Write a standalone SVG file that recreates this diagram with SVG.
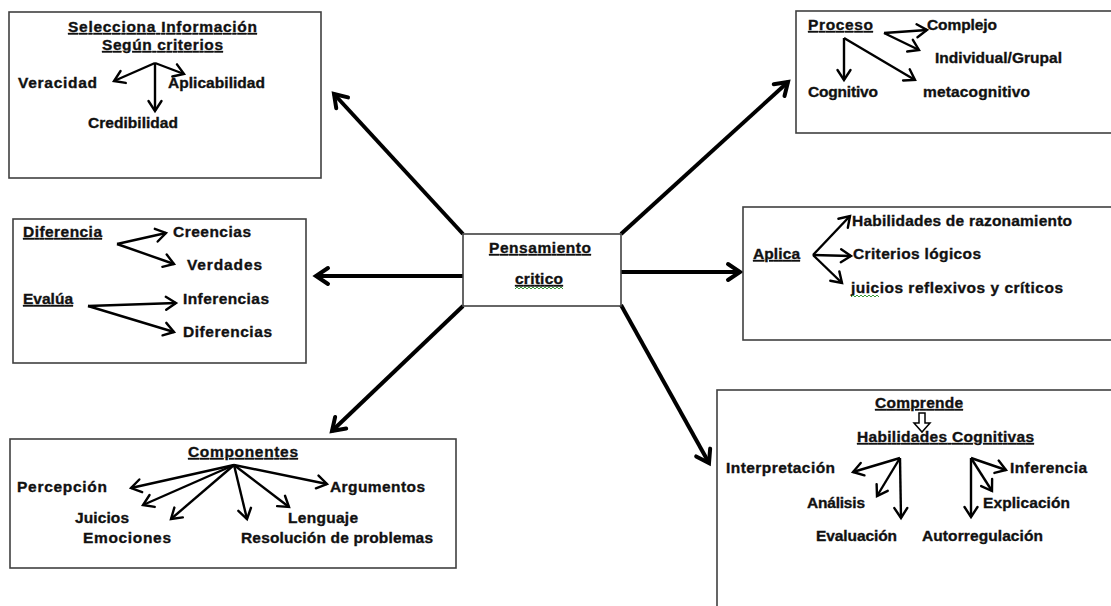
<svg xmlns="http://www.w3.org/2000/svg" width="1111" height="606" viewBox="0 0 1111 606">
<style>
.box{fill:#fff;stroke:#404040;stroke-width:1.6}
text{font-family:"Liberation Sans",Arial,sans-serif;font-weight:bold;font-size:15.5px;fill:#111;stroke:#111;stroke-width:0.35}
.u{text-decoration:underline}
.main{stroke:#000;stroke-width:4;fill:none;marker-end:url(#mh)}
.sm{stroke:#000;stroke-width:2.4;fill:none;marker-end:url(#sh)}
.wavy{stroke:#3a9a3a;stroke-width:1;fill:none}
</style>
<defs>
<marker id="mh" markerUnits="userSpaceOnUse" viewBox="-16 -12 20 24" refX="0" refY="0" markerWidth="20" markerHeight="24" orient="auto" overflow="visible">
<path d="M-12,-8 L0,0 L-12,8" fill="none" stroke="#000" stroke-width="4" stroke-linecap="round" stroke-linejoin="miter"/>
</marker>
<marker id="sh" markerUnits="userSpaceOnUse" viewBox="-12 -9 14 18" refX="0" refY="0" markerWidth="14" markerHeight="18" orient="auto" overflow="visible">
<path d="M-10,-6.5 L0,0 L-10,6.5" fill="none" stroke="#000" stroke-width="2.4" stroke-linecap="round"/>
</marker>
</defs>
<rect width="1111" height="606" fill="#fff"/>

<g id="connectors">
<line class="main" x1="463" y1="234" x2="334" y2="94"/>
<line class="main" x1="621" y1="234" x2="788" y2="82"/>
<line class="main" x1="463" y1="276" x2="316" y2="276"/>
<line class="main" x1="621" y1="272" x2="740" y2="272"/>
<line class="main" x1="463" y1="306" x2="332" y2="431"/>
<line class="main" x1="621" y1="305" x2="709" y2="463"/>
</g>

<g id="node-center">
<rect class="box" x="463" y="234" width="158" height="72"/>
<text class="u" x="489" y="253" textLength="102" lengthAdjust="spacing">Pensamiento</text>
<text class="u" x="515" y="284" textLength="48" lengthAdjust="spacing">critico</text>
<path class="wavy" d="M515,289 l2,-2 l2,2 l2,-2 l2,2 l2,-2 l2,2 l2,-2 l2,2 l2,-2 l2,2 l2,-2 l2,2 l2,-2 l2,2 l2,-2 l2,2 l2,-2 l2,2 l2,-2 l2,2 l2,-2 l2,2 l2,-2 l2,2"/>
</g>

<g id="node-selecciona">
<rect class="box" x="9" y="12" width="312" height="166"/>
<text class="u" x="68" y="32" textLength="189" lengthAdjust="spacing">Selecciona Información</text>
<text class="u" x="102" y="50" textLength="121" lengthAdjust="spacing">Según criterios</text>
<text x="18" y="88" textLength="79" lengthAdjust="spacing">Veracidad</text>
<text x="168" y="88" textLength="97" lengthAdjust="spacing">Aplicabilidad</text>
<text x="88" y="128" textLength="90" lengthAdjust="spacing">Credibilidad</text>
<line class="sm" x1="155" y1="63" x2="114" y2="81"/>
<line class="sm" x1="155" y1="63" x2="184" y2="74"/>
<line class="sm" x1="155" y1="63" x2="155" y2="111"/>
</g>

<g id="node-proceso">
<rect class="box" x="796" y="11" width="320" height="122"/>
<text class="u" x="808" y="30" textLength="65" lengthAdjust="spacing">Proceso</text>
<text x="927" y="30" textLength="70" lengthAdjust="spacing">Complejo</text>
<text x="935" y="63" textLength="127" lengthAdjust="spacing">Individual/Grupal</text>
<text x="808" y="97" textLength="70" lengthAdjust="spacing">Cognitivo</text>
<text x="923" y="97" textLength="107" lengthAdjust="spacing">metacognitivo</text>
<line class="sm" x1="884" y1="33" x2="927" y2="30"/>
<line class="sm" x1="884" y1="33" x2="919" y2="50"/>
<line class="sm" x1="844" y1="38" x2="844" y2="80"/>
<line class="sm" x1="844" y1="38" x2="915" y2="80"/>
</g>

<g id="node-diferencia">
<rect class="box" x="13" y="219" width="293" height="144"/>
<text class="u" x="23" y="237" textLength="79" lengthAdjust="spacing">Diferencia</text>
<text x="173" y="237" textLength="78" lengthAdjust="spacing">Creencias</text>
<text x="187" y="270" textLength="75" lengthAdjust="spacing">Verdades</text>
<text class="u" x="23" y="304" textLength="50" lengthAdjust="spacing">Evalúa</text>
<text x="183" y="304" textLength="86" lengthAdjust="spacing">Inferencias</text>
<text x="183" y="337" textLength="89" lengthAdjust="spacing">Diferencias</text>
<line class="sm" x1="117" y1="244" x2="166" y2="233"/>
<line class="sm" x1="117" y1="244" x2="174" y2="264"/>
<line class="sm" x1="88" y1="306" x2="176" y2="303"/>
<line class="sm" x1="88" y1="306" x2="174" y2="332"/>
</g>

<g id="node-aplica">
<rect class="box" x="743" y="207" width="373" height="133"/>
<text class="u" x="753" y="259" textLength="47" lengthAdjust="spacing">Aplica</text>
<text x="852" y="226" textLength="220" lengthAdjust="spacing">Habilidades de razonamiento</text>
<text x="853" y="259" textLength="128" lengthAdjust="spacing">Criterios lógicos</text>
<text x="851" y="293" textLength="212" lengthAdjust="spacing">juicios reflexivos y críticos</text>
<path class="wavy" d="M851,297 l2,-2 l2,2 l2,-2 l2,2 l2,-2 l2,2 l2,-2 l2,2 l2,-2 l2,2 l2,-2 l2,2 l2,-2 l2,2"/>
<line class="sm" x1="813" y1="255" x2="850" y2="216"/>
<line class="sm" x1="813" y1="255" x2="851" y2="256"/>
<line class="sm" x1="813" y1="255" x2="842" y2="283"/>
</g>

<g id="node-componentes">
<rect class="box" x="10" y="439" width="446" height="129"/>
<text class="u" x="188" y="457" textLength="110" lengthAdjust="spacing">Componentes</text>
<text x="17" y="492" textLength="90" lengthAdjust="spacing">Percepción</text>
<text x="330" y="492" textLength="95" lengthAdjust="spacing">Argumentos</text>
<text x="75" y="523" textLength="54" lengthAdjust="spacing">Juicios</text>
<text x="288" y="523" textLength="70" lengthAdjust="spacing">Lenguaje</text>
<text x="83" y="543" textLength="88" lengthAdjust="spacing">Emociones</text>
<text x="241" y="543" textLength="192" lengthAdjust="spacing">Resolución de problemas</text>
<line class="sm" x1="234" y1="465" x2="131" y2="488"/>
<line class="sm" x1="234" y1="465" x2="327" y2="484"/>
<line class="sm" x1="234" y1="465" x2="143" y2="505"/>
<line class="sm" x1="234" y1="465" x2="171" y2="519"/>
<line class="sm" x1="234" y1="465" x2="247" y2="519"/>
<line class="sm" x1="234" y1="465" x2="289" y2="507"/>
</g>

<g id="node-comprende">
<rect class="box" x="717" y="390" width="399" height="222"/>
<text class="u" x="875" y="408" textLength="88" lengthAdjust="spacing">Comprende</text>
<polygon points="919,413 925,413 925,423 930,423 922,432 914,423 919,423" fill="#fff" stroke="#000" stroke-width="1.5"/>
<text class="u" x="857" y="442" textLength="177" lengthAdjust="spacing">Habilidades Cognitivas</text>
<text x="726" y="473" textLength="109" lengthAdjust="spacing">Interpretación</text>
<text x="1010" y="473" textLength="77" lengthAdjust="spacing">Inferencia</text>
<text x="807" y="508" textLength="58" lengthAdjust="spacing">Análisis</text>
<text x="983" y="508" textLength="87" lengthAdjust="spacing">Explicación</text>
<text x="816" y="541" textLength="81" lengthAdjust="spacing">Evaluación</text>
<text x="922" y="541" textLength="121" lengthAdjust="spacing">Autorregulación</text>
<line class="sm" x1="900" y1="458" x2="853" y2="472"/>
<line class="sm" x1="900" y1="458" x2="877" y2="496"/>
<line class="sm" x1="900" y1="458" x2="901" y2="518"/>
<line class="sm" x1="971" y1="458" x2="1006" y2="470"/>
<line class="sm" x1="971" y1="458" x2="992" y2="491"/>
<line class="sm" x1="971" y1="458" x2="971" y2="517"/>
</g>
</svg>
